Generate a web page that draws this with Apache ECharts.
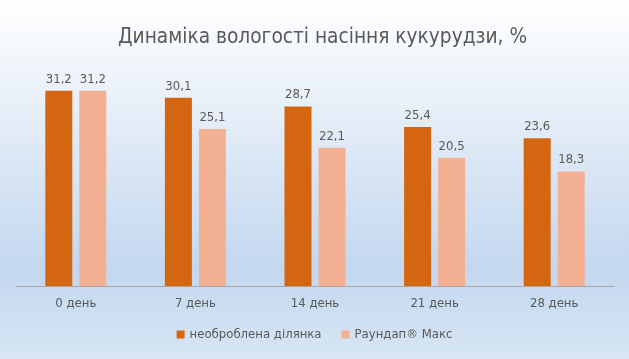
<!DOCTYPE html>
<html><head><meta charset="utf-8">
<script src="https://cdn.jsdelivr.net/npm/echarts@6/dist/echarts.min.js"></script>
<style>html,body{margin:0;padding:0;}#c{width:629px;height:359px;}</style>
</head><body><div id="c"></div>
<script>
var categories = ['0 день', '7 день', '14 день', '21 день', '28 день'];
var untreated = [31.2, 30.1, 28.7, 25.4, 23.6];
var roundup = [31.2, 25.1, 22.1, 20.5, 18.3];
var seriesNames = ['необроблена ділянка', 'Раундап® Макс'];
var FONT = '"Liberation Sans Narrow", "DejaVu Sans Condensed", sans-serif';
var fmt = function (p) { return String(p.value.toFixed(1)).replace('.', ','); };
var chart = echarts.init(document.getElementById('c'));
chart.setOption({
  backgroundColor: new echarts.graphic.LinearGradient(0, 0, 0, 1, [
    {offset: 0, color: '#ffffff'},
    {offset: 0.75, color: '#c3d7ee'},
    {offset: 1, color: '#d8e6f5'}
  ]),
  textStyle: {fontFamily: FONT},
  title: {
    text: 'Динаміка вологості насіння кукурудзи, %',
    left: 113, top: 22,
    textStyle: {fontFamily: FONT, fontSize: 20.7, fontWeight: 'normal', color: '#595959'}
  },
  legend: {
    bottom: 13, left: 'center', itemWidth: 8, itemHeight: 8, itemGap: 20,
    icon: 'rect',
    textStyle: {fontFamily: FONT, fontSize: 13, color: '#595959'},
    data: seriesNames
  },
  grid: {left: 16, right: 15, top: 67, bottom: 73},
  xAxis: {
    type: 'category', data: categories,
    axisLine: {lineStyle: {color: '#a6a6a6', width: 1}},
    axisTick: {show: false},
    axisLabel: {fontFamily: FONT, fontSize: 13, color: '#595959', margin: 11}
  },
  yAxis: {
    type: 'value', min: 0, max: 35, show: false,
    splitLine: {show: false}
  },
  series: [
    {name: seriesNames[0], type: 'bar', data: untreated, barWidth: 27, barGap: '26%',
     itemStyle: {color: '#d46611'},
     label: {show: true, position: 'top', distance: 5, formatter: fmt, fontFamily: FONT, fontSize: 13, color: '#595959'}},
    {name: seriesNames[1], type: 'bar', data: roundup, barWidth: 27,
     itemStyle: {color: '#f4b093'},
     label: {show: true, position: 'top', distance: 5, formatter: fmt, fontFamily: FONT, fontSize: 13, color: '#595959'}}
  ]
});
</script></body></html>
